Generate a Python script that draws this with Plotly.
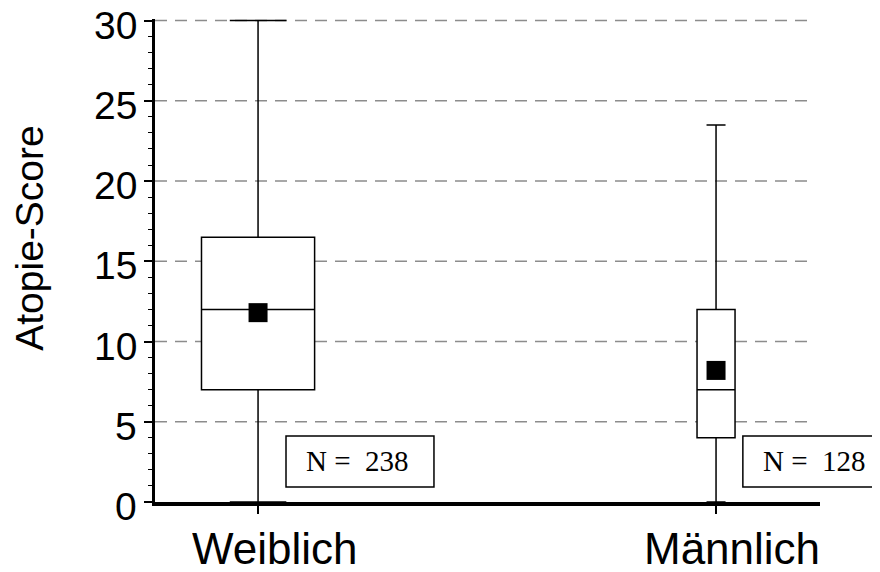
import plotly.graph_objects as go

# ---- data ----
categories = ["Weiblich", "Männlich"]
q1 = [7, 4]
median = [12, 7]
q3 = [16.5, 12]
lower = [0, 0]
upper = [30, 23.5]
means = [11.8, 8.2]
counts = [238, 128]
y_ticks = [0, 5, 10, 15, 20, 25, 30]
grid_vals = [5, 10, 15, 20, 25, 30]
box_widths = [0.247, 0.083]

xpos = list(range(len(categories)))

fig = go.Figure()

for i in xpos:
    fig.add_trace(go.Box(
        x=[xpos[i]], q1=[q1[i]], median=[median[i]], q3=[q3[i]],
        lowerfence=[lower[i]], upperfence=[upper[i]],
        width=box_widths[i], whiskerwidth=0.5,
        fillcolor="white", line=dict(color="black", width=1.5),
        boxpoints=False, showlegend=False, hoverinfo="skip",
    ))

fig.add_trace(go.Scatter(
    x=xpos, y=means, mode="markers",
    marker=dict(symbol="square", size=19, color="black"),
    showlegend=False, hoverinfo="skip", cliponaxis=False,
))

# dashed grid lines
for v in grid_vals:
    fig.add_shape(type="line", xref="paper", yref="y", x0=0, x1=0.9895,
                  y0=v, y1=v, layer="below",
                  line=dict(color="#8c8c8c", width=1.5, dash="12px,8px"))

# y tick labels
for v in y_ticks:
    fig.add_annotation(x=0, xref="paper", y=v, yref="y", text=str(v),
                       showarrow=False, xanchor="right", yanchor="middle",
                       xshift=-16, yshift=-4, height=34, valign="middle",
                       font=dict(family="Liberation Sans, Arial", size=39, color="black"))

# category labels
for i in xpos:
    fig.add_annotation(x=xpos[i], xref="x", y=0, yref="paper", text=categories[i],
                       showarrow=False, xshift=16, yshift=-46, yanchor="middle",
                       height=36, valign="middle",
                       font=dict(family="Liberation Sans, Arial", size=44, color="black"))

# N boxes (frame + text)
n_box_x0 = [0.197, 0.884]
n_box_x1 = [0.4195, 1.0887]
n_text_x = [0.3038, 0.9917]
for i in xpos:
    fig.add_shape(type="rect", xref="paper", yref="paper",
                  x0=n_box_x0[i], x1=n_box_x1[i], y0=0.031, y1=0.1366,
                  fillcolor="white", line=dict(color="black", width=1.5), layer="above")
    fig.add_annotation(x=n_text_x[i], xref="paper", y=0.0839, yref="paper",
                       text="N = \u00a0" + str(counts[i]), showarrow=False,
                       xanchor="center", yanchor="middle",
                       font=dict(family="Liberation Serif, Times New Roman", size=29, color="black"))

# y axis title
fig.add_annotation(x=0, xref="paper", y=0.545, yref="paper", text="Atopie-Score",
                   showarrow=False, textangle=-90, xshift=-125, xanchor="center",
                   font=dict(family="Liberation Sans, Arial", size=39, color="black"))

fig.update_layout(
    width=880, height=556,
    margin=dict(l=147, r=68, t=11, b=62),
    paper_bgcolor="white", plot_bgcolor="white",
    xaxis=dict(range=[-0.225, 1.227], tickvals=xpos, ticktext=["", ""],
               showgrid=False, zeroline=False, showline=True,
               linecolor="black", linewidth=4,
               ticks="outside", ticklen=8, tickwidth=1.5, tickcolor="black"),
    yaxis=dict(range=[0, 30.1], tickvals=y_ticks, showticklabels=False,
               showgrid=False, zeroline=False,
               showline=True, linecolor="black", linewidth=3,
               ticks="outside", ticklen=8, tickwidth=1.5, tickcolor="black",
               minor=dict(dtick=1, ticks="outside", ticklen=4, tickwidth=1, tickcolor="black")),
)

fig.write_html("out.html")
